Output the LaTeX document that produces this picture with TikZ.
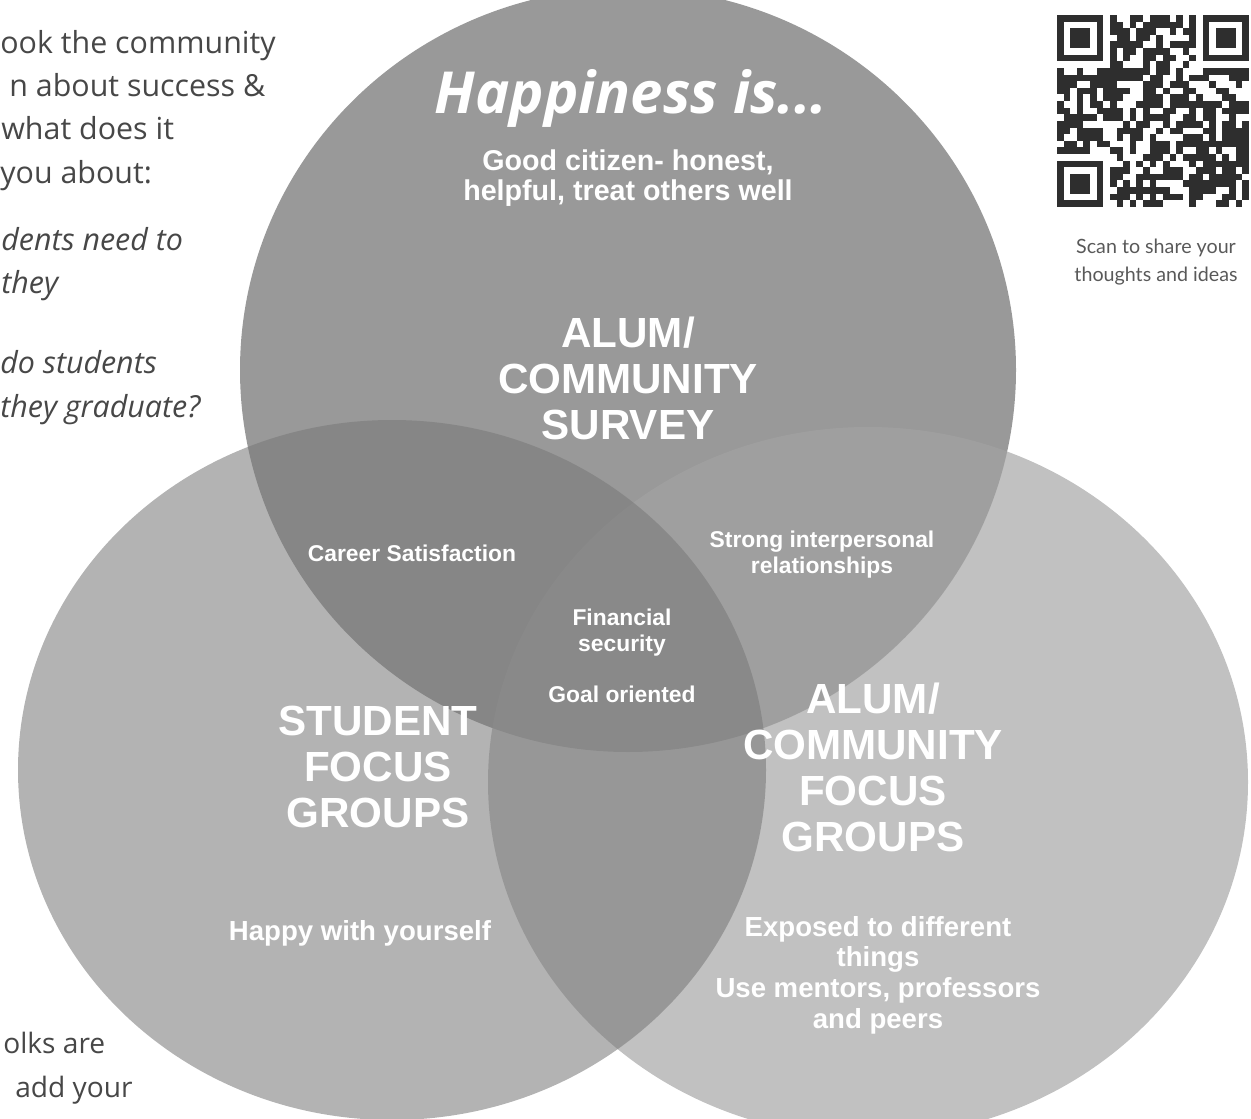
\documentclass[tikz,border=0pt]{standalone}
\usepackage{fontspec}
\setmainfont{Liberation Sans}
\newfontfamily\opensans{Open Sans}
\newfontfamily\latofont{Lato}

\definecolor{topfill}{gray}{0.60}
\definecolor{leftfill}{gray}{0.47}
\definecolor{rightfill}{gray}{0.64}
\definecolor{sidegray}{gray}{0.28}
\definecolor{scangray}{gray}{0.35}
\definecolor{qrdark}{gray}{0.18}

\tikzset{
    bigname/.style={text=white, align=center, inner sep=0pt,
        font=\bfseries\fontsize{24}{26.2}\selectfont},
    note/.style={text=white, align=center, inner sep=0pt,
        font=\bfseries\fontsize{15.7}{17.4}\selectfont},
    smallnote/.style={text=white, align=center, inner sep=0pt,
        font=\bfseries\fontsize{13}{14.7}\selectfont},
    sidetext/.style={text=sidegray, inner sep=0pt, anchor=base west,
        font=\opensans\fontsize{17.3}{24}\selectfont},
}

\begin{document}
\begin{tikzpicture}[x=0.02cm, y=-0.02cm]
        \useasboundingbox (0, 0) rectangle (1251, 1119);
        \clip (0, 0) rectangle (1251, 1119);

        \fill[topfill] (628, 370) ellipse [x radius=388, y radius=382];
        \fill[rightfill, fill opacity=0.68] (868, 782) ellipse [x radius=380, y radius=355];
        \fill[leftfill, fill opacity=0.56] (392, 770) ellipse [x radius=374, y radius=350];

        \node[text=white, inner sep=0pt, anchor=base, font=\opensans\bfseries\itshape\fontsize{33}{36}\selectfont]
            (hap) at (631, 113) {Happiness is...};
        \node[note, font=\bfseries\fontsize{16.3}{17.4}\selectfont] (citizen) at (628, 178) {Good citizen- honest,\\helpful, treat others well};
        \node[bigname] (survey) at (628, 378) {ALUM/\\COMMUNITY\\SURVEY};

        \node[smallnote, anchor=base] (career) at (412, 561) {Career Satisfaction};
        \node[smallnote] (strong) at (822, 555) {Strong interpersonal\\relationships};
        \node[smallnote] (finance) at (622, 633) {Financial\\security};
        \node[smallnote, anchor=base] (goal) at (622, 702) {Goal oriented};

        \node[bigname] (student) at (378, 767) {STUDENT\\FOCUS\\GROUPS};
        \node[note, anchor=base] (happyself) at (360, 940) {Happy with yourself};

        \node[bigname] (focus) at (873, 767) {ALUM/\\COMMUNITY\\FOCUS\\GROUPS};
        \node[note] (exposed) at (878, 975) {Exposed to different\\things\\Use mentors, professors\\and peers};

        \foreach \txt/\xx/\yy [count=\i] in {ook the community/0/53, n about success \&/9/96,
            what does it/1/139, you about:/0/183} {
            \node[sidetext] (side\i) at (\xx, \yy) {\txt};
        }
        \foreach \txt/\xx/\yy [count=\i] in {dents need to/1/250, they/1/293,
            do students/0/373, they graduate?/0/417} {
            \node[sidetext, font=\opensans\itshape\fontsize{17.3}{24}\selectfont] (ask\i) at (\xx, \yy) {\txt};
        }
        \foreach \txt/\xx/\yy [count=\i] in {olks are/3/1053, add your/15/1097} {
            \node[sidetext, font=\opensans\fontsize{16}{24}\selectfont] (foot\i) at (\xx, \yy) {\txt};
        }

        \node[text=scangray, align=center, inner sep=0pt, font=\latofont\fontsize{11.2}{15.9}\selectfont]
            (scan) at (1156, 262) {Scan to share your\\thoughts and ideas};

        \begin{scope}[shift={(1057, 15)}, x=0.1324cm, y=-0.1324cm]
            \pgfmathsetseed{21}
            \foreach \i in {0,...,28} {
                \foreach \j in {0,...,28} {
                    \pgfmathtruncatemacro\inzone{((\i<8 && \j<8) || (\i>20 && \j<8) || (\i<8 && \j>20)) ? 1 : 0}
                    \ifnum\inzone=0
                        \pgfmathrandominteger{\b}{0}{9}
                        \ifnum\b<6 \fill[qrdark] (\i, \j) rectangle ++(1, 1); \fi
                    \fi
                }
            }
            \foreach \fx/\fy in {0/0, 22/0, 0/22} {
                \fill[qrdark] (\fx, \fy) rectangle ++(7, 7);
                \fill[white] (\fx+1, \fy+1) rectangle ++(5, 5);
                \fill[qrdark] (\fx+2, \fy+2) rectangle ++(3, 3);
            }
        \end{scope}
    \end{tikzpicture}
\end{document}
